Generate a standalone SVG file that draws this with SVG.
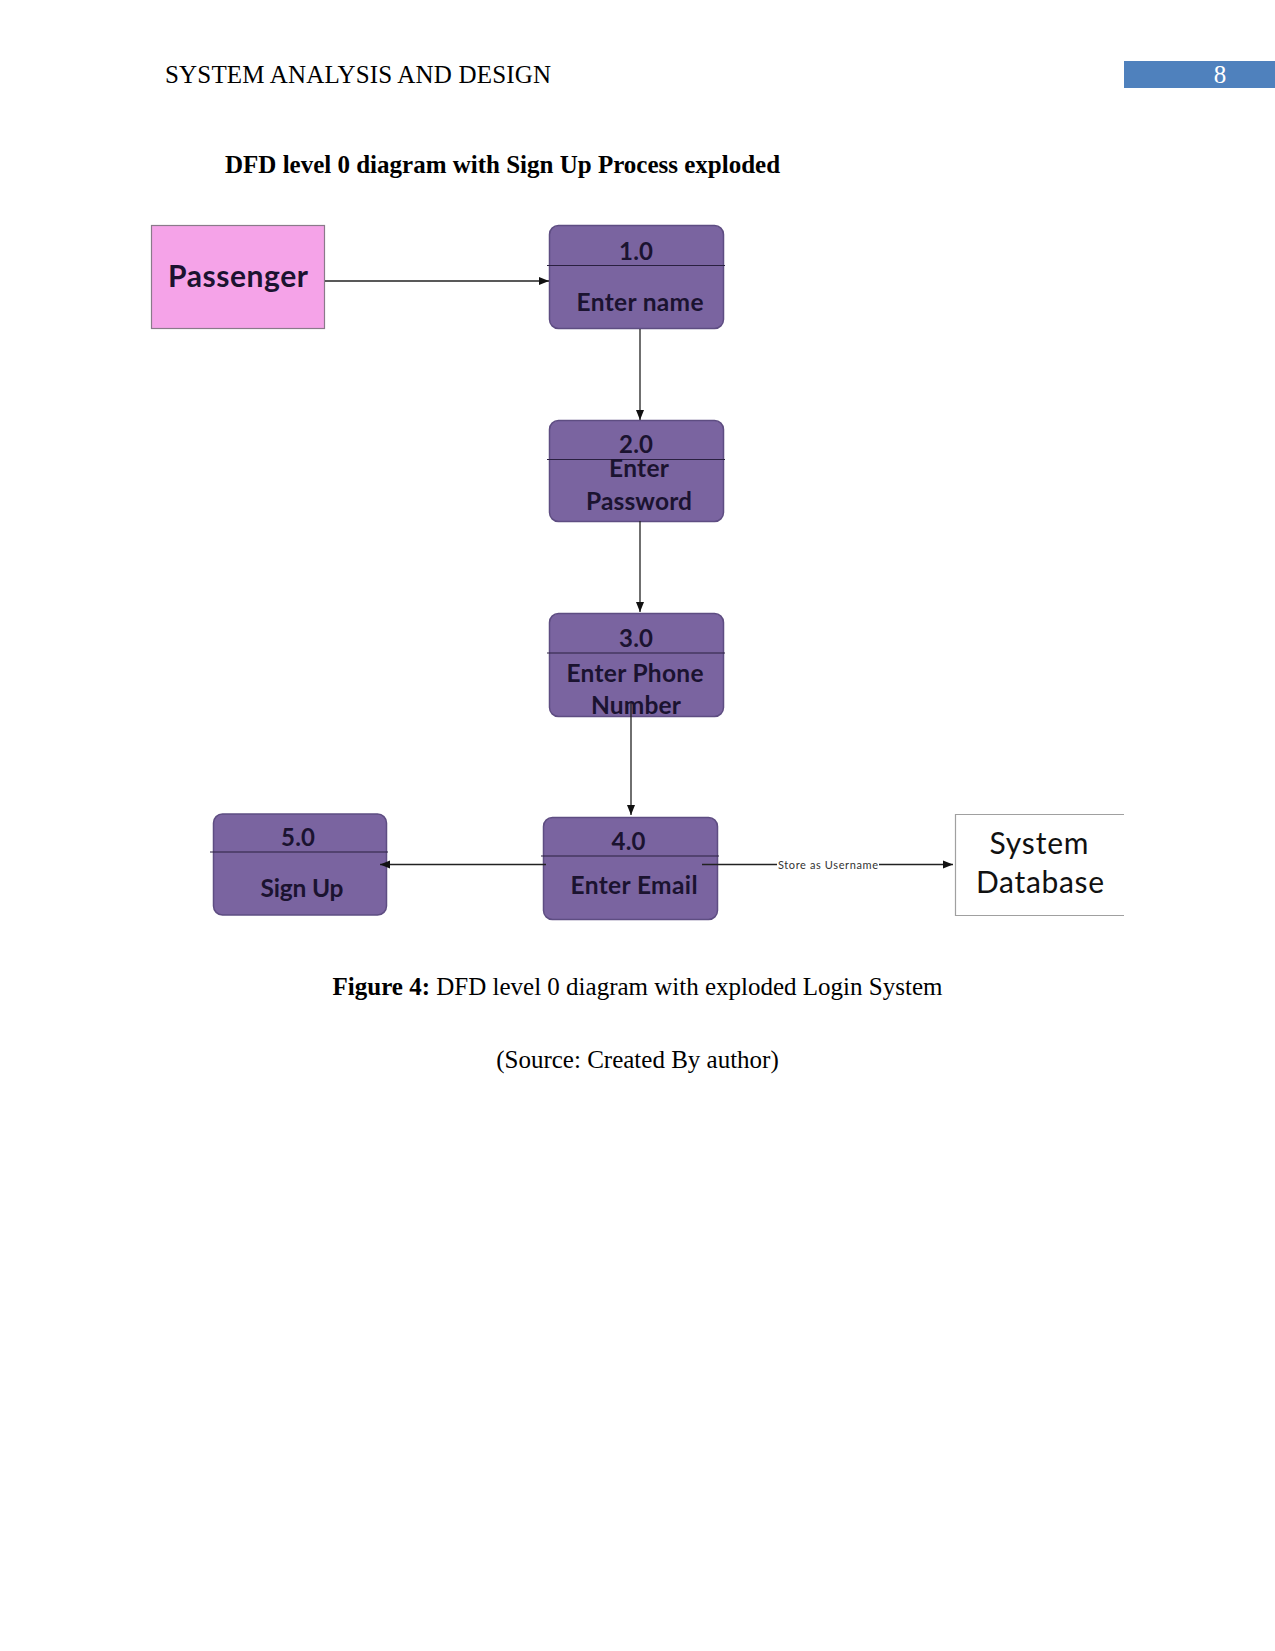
<svg xmlns="http://www.w3.org/2000/svg" width="1275" height="1651" viewBox="0 0 1275 1651">
<style>
.serif{font-family:"Liberation Serif","Times New Roman",serif;fill:#000}
.proc{fill:#7A64A0;stroke:#5E4D82;stroke-width:1.5}
.div{stroke:#2A2040;stroke-width:1.2}
.pt{font-family:Lato,"Open Sans",sans-serif;font-weight:bold;fill:#1B1330;text-anchor:middle}
.conn{stroke:#222;stroke-width:1.3;fill:none}
</style>
<defs>
<marker id="arr" viewBox="0 0 10 10" refX="10" refY="5" markerWidth="10" markerHeight="10" markerUnits="userSpaceOnUse" orient="auto">
<path d="M0,1 L10,5 L0,9 z" fill="#111"/>
</marker>
</defs>
<rect width="1275" height="1651" fill="#fff"/>
<g id="header">
<text class="serif" x="165" y="83" font-size="25" textLength="386">SYSTEM ANALYSIS AND DESIGN</text>
<rect x="1124" y="61" width="151" height="27" fill="#4F81BD"/>
<text x="1220" y="83" font-family="Liberation Serif,serif" font-size="25" fill="#fff" text-anchor="middle">8</text>
</g>
<text id="title" class="serif" x="225" y="173" font-size="25" font-weight="bold">DFD level 0 diagram with Sign Up Process exploded</text>
<g id="passenger">
<rect x="151.5" y="225.5" width="173" height="103" fill="#F5A3E8" stroke="#8a7a8a" stroke-width="1.2"/>
<text class="pt" x="238" y="287" font-size="30" textLength="140">Passenger</text>
</g>
<g id="p1">
<rect class="proc" x="549.5" y="225.5" width="174" height="103" rx="9"/>
<line class="div" x1="547" y1="265.5" x2="725" y2="265.5"/>
<text class="pt" x="636" y="260" font-size="24" textLength="34">1.0</text>
<text class="pt" x="640" y="311" font-size="24.5" textLength="127">Enter name</text>
</g>
<g id="p2">
<rect class="proc" x="549.5" y="420.5" width="174" height="101" rx="9"/>
<line class="div" x1="547" y1="459.5" x2="725" y2="459.5"/>
<text class="pt" x="636" y="453" font-size="24" textLength="34">2.0</text>
<text class="pt" x="639" y="477" font-size="24.5" textLength="60">Enter</text>
<text class="pt" x="639" y="510" font-size="24.5" textLength="106">Password</text>
</g>
<g id="p3">
<rect class="proc" x="549.5" y="613.5" width="174" height="103" rx="9"/>
<line class="div" x1="547" y1="653" x2="725" y2="653"/>
<text class="pt" x="636" y="647" font-size="24" textLength="34">3.0</text>
<text class="pt" x="635" y="682" font-size="24.5" textLength="137">Enter Phone</text>
<text class="pt" x="636" y="714" font-size="24.5" textLength="90">Number</text>
</g>
<g id="p4">
<rect class="proc" x="543.5" y="817.5" width="174" height="102" rx="9"/>
<line class="div" x1="541" y1="856" x2="719" y2="856"/>
<text class="pt" x="628.5" y="850" font-size="24" textLength="34">4.0</text>
<text class="pt" x="634" y="894" font-size="24.5" textLength="127">Enter Email</text>
</g>
<g id="p5">
<rect class="proc" x="213.5" y="814" width="173" height="101" rx="9"/>
<line class="div" x1="210" y1="852" x2="388" y2="852"/>
<text class="pt" x="298" y="846" font-size="24" textLength="34">5.0</text>
<text class="pt" x="302" y="897" font-size="24.5" textLength="83">Sign Up</text>
</g>
<g id="db">
<path d="M1124,814.5 H955.5 V915.5 H1124" fill="#fff" stroke="#a0a0a0" stroke-width="1.2"/>
<text x="1039" y="854" font-family="Lato,'Open Sans',sans-serif" font-size="30" fill="#111" text-anchor="middle" textLength="99">System</text>
<text x="1040" y="893" font-family="Lato,'Open Sans',sans-serif" font-size="30" fill="#111" text-anchor="middle" textLength="128">Database</text>
</g>
<g id="connectors">
<line class="conn" x1="325" y1="281" x2="549" y2="281" marker-end="url(#arr)"/>
<line class="conn" x1="640" y1="329" x2="640" y2="420" marker-end="url(#arr)"/>
<line class="conn" x1="640" y1="521" x2="640" y2="612" marker-end="url(#arr)"/>
<line class="conn" x1="631" y1="703" x2="631" y2="815" marker-end="url(#arr)"/>
<line class="conn" x1="546" y1="864.5" x2="380" y2="864.5" marker-end="url(#arr)"/>
<line class="conn" x1="702" y1="864.5" x2="953" y2="864.5" marker-end="url(#arr)"/>
<rect x="777" y="857" width="102" height="14" fill="#fff"/>
<text x="828" y="868.5" font-family="Lato,'Open Sans',sans-serif" font-size="11" fill="#333" text-anchor="middle" textLength="100">Store as Username</text>
</g>
<g id="caption">
<text class="serif" x="637.5" y="995" font-size="25" text-anchor="middle"><tspan font-weight="bold">Figure 4:</tspan> DFD level 0 diagram with exploded Login System</text>
<text class="serif" x="637.5" y="1068" font-size="25" text-anchor="middle">(Source: Created By author)</text>
</g>
</svg>
